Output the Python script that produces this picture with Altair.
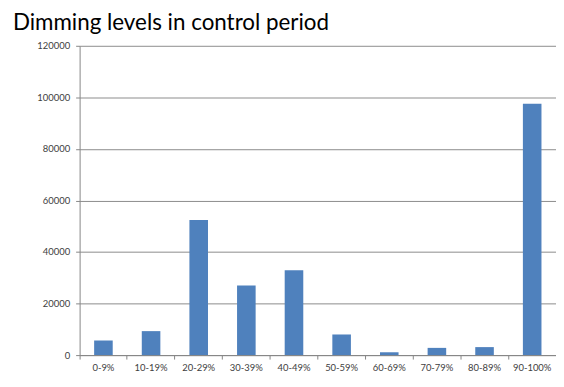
import altair as alt
import pandas as pd

categories = ["0-9%", "10-19%", "20-29%", "30-39%", "40-49%",
              "50-59%", "60-69%", "70-79%", "80-89%", "90-100%"]
values = [5700, 9300, 52400, 27000, 32900, 8000, 1100, 2800, 3100, 97500]
y_ticks = [0, 20000, 40000, 60000, 80000, 100000, 120000]

df = pd.DataFrame({"level": categories, "count": values})

FONT = "Lato"
W = 479
H = 311

chart = alt.Chart(df).mark_bar(
    color="#4F81BD", width=alt.RelativeBandSize(0.39)
).encode(
    x=alt.X("level:N", sort=categories,
            scale=alt.Scale(paddingInner=0, paddingOuter=0),
            axis=alt.Axis(title=None, labelAngle=0, bandPosition=0,
                          tickSize=4, labelPadding=3,
                          domainColor="#868686", tickColor="#868686",
                          labelColor="#404040", labelFont=FONT, labelFontSize=9.5,
                          grid=False)),
    y=alt.Y("count:Q",
            scale=alt.Scale(domain=[0, 120000], nice=False),
            axis=alt.Axis(title=None, values=y_ticks, format="d",
                          tickSize=4, labelPadding=6,
                          domainColor="#868686", tickColor="#868686",
                          gridColor="#8c8c8c", gridWidth=1,
                          labelColor="#404040", labelFont=FONT, labelFontSize=9.5)),
).properties(
    width=W,
    height=H,
    padding={"left": 4, "top": 3, "right": 0, "bottom": 0},
    title=alt.TitleParams("Dimming levels in control period", anchor="start",
                          frame="bounds", font=FONT, fontSize=22.5, fontWeight="normal",
                          color="#000000", dx=-24, offset=6),
).configure_view(stroke=None)

chart.save("out.html", embed_options={"renderer": "svg", "actions": False})
